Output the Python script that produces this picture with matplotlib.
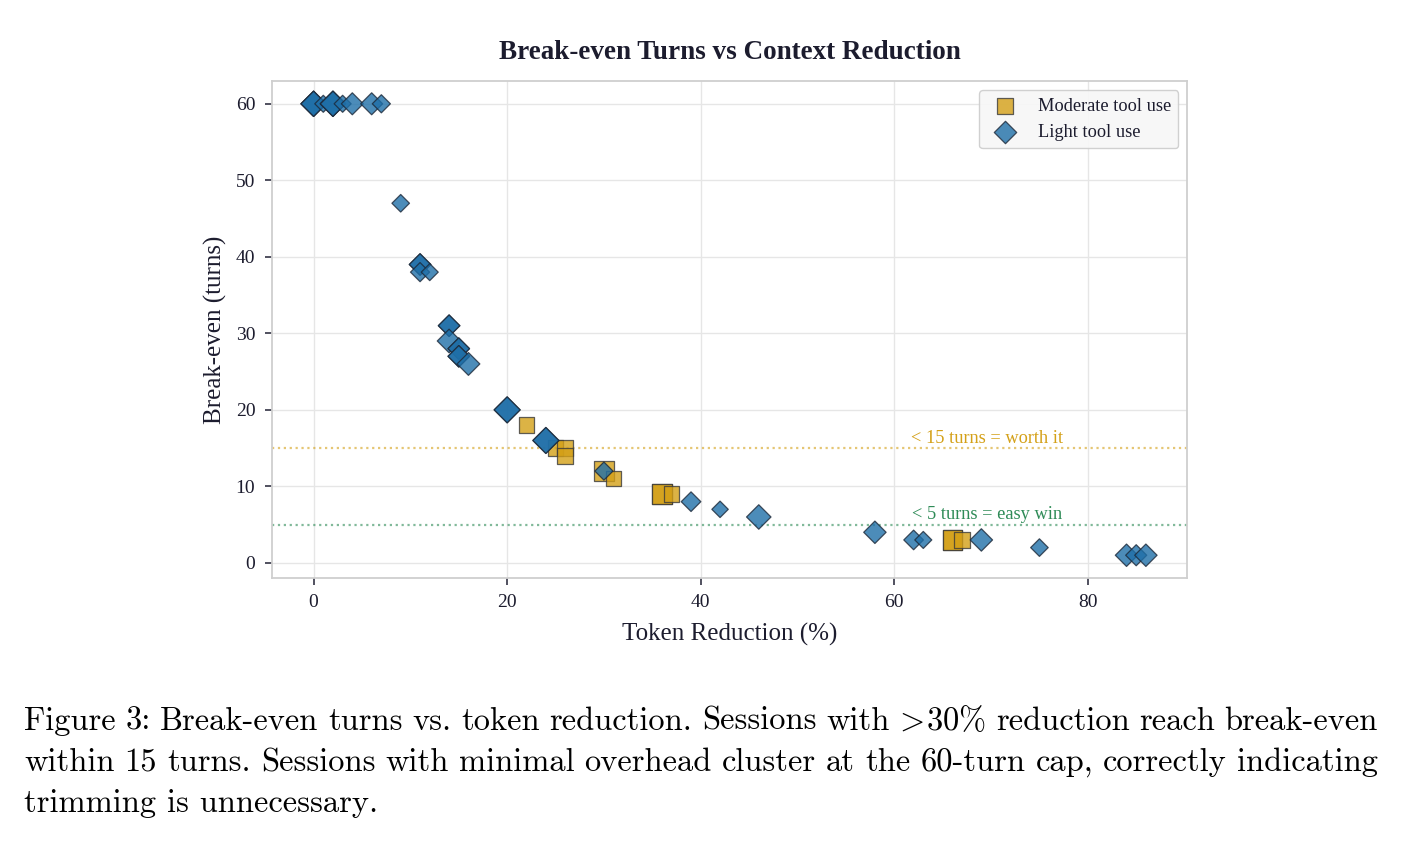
import matplotlib
matplotlib.use("Agg")
import matplotlib.pyplot as plt

# ---- data ----
light_x = [0, 0, 0, 1, 2, 2, 2, 3, 4, 6, 7, 9, 11, 11, 11, 12, 14, 14, 14, 15, 15, 15, 15, 16,
           20, 20, 24, 24, 30, 39, 42, 46, 58, 62, 63, 69, 75, 84, 85, 86]
light_y = [60, 60, 60, 60, 60, 60, 60, 60, 60, 60, 60, 47, 39, 39, 38, 38, 31, 31, 29, 28, 28, 27, 27, 26,
           20, 20, 16, 16, 12, 8, 7, 6, 4, 3, 3, 3, 2, 1, 1, 1]
light_s = [165, 165, 165, 75, 165, 165, 165, 75, 125, 125, 85, 80, 120, 120, 95, 75, 120, 120, 145, 120, 120, 120, 120, 135,
           175, 175, 175, 175, 85, 100, 70, 155, 130, 100, 75, 130, 80, 130, 115, 130]

mod_x = [22, 25, 26, 26, 30, 31, 36, 36, 37, 66, 66, 67]
mod_y = [18, 15, 15, 14, 12, 11, 9, 9, 9, 3, 3, 3]
mod_s = [125, 125, 125, 125, 210, 120, 200, 200, 120, 200, 200, 125]

worth_it = 15
easy_win = 5

caption_lines = [
    r"Figure 3: Break-even turns vs. token reduction. Sessions with $\!>\!$30% reduction reach break-even",
    "within 15 turns. Sessions with minimal overhead cluster at the 60-turn cap, correctly indicating",
    "trimming is unnecessary.",
]

# ---- style ----
plt.rcParams['font.family'] = ['Liberation Serif', 'DejaVu Serif']
plt.rcParams['mathtext.fontset'] = 'cm'
DARK = '#1c1c2e'
BLUE = '#1f6fa8'
GOLD = '#d4a017'
GREEN = '#2e8b57'

fig = plt.figure(figsize=(14.02, 8.46), dpi=100)
ax = fig.add_axes([0.194, 0.317, 0.653, 0.587])

ax.scatter(mod_x, mod_y, s=mod_s, marker='s', color=GOLD, alpha=0.8,
           edgecolors='#3a3a3a', linewidths=0.9, label='Moderate tool use', zorder=3)
ax.scatter(light_x, light_y, s=light_s, marker='D', color=BLUE, alpha=0.8,
           edgecolors='#1c2838', linewidths=0.9, label='Light tool use', zorder=3)

ax.axhline(worth_it, color=GOLD, ls=':', lw=1.6, alpha=0.6, zorder=2)
ax.axhline(easy_win, color=GREEN, ls=':', lw=1.6, alpha=0.6, zorder=2)
ax.text(69.6, worth_it + 0.2, '< 15 turns = worth it', color=GOLD, fontsize=13.2,
        ha='center', va='bottom')
ax.text(69.6, easy_win + 0.2, '< 5 turns = easy win', color=GREEN, fontsize=13.2,
        ha='center', va='bottom')

ax.set_xticks([0, 20, 40, 60, 80])
ax.set_yticks([0, 10, 20, 30, 40, 50, 60])
ax.grid(True, color='#e6e6e6', lw=1.0, zorder=0)
ax.set_axisbelow(True)
for sp in ax.spines.values():
    sp.set_color('#cfcfcf')
    sp.set_linewidth(1.3)
ax.tick_params(axis='both', colors=DARK, labelsize=14, length=5, width=1.2,
               direction='out', pad=7)
ax.tick_params(axis='both', color='#333344')

ax.set_xlabel('Token Reduction (%)', fontsize=18, color=DARK, labelpad=8)
ax.set_ylabel('Break-even (turns)', fontsize=18, color=DARK, labelpad=6)
ax.set_title('Break-even Turns vs Context Reduction', fontsize=19.5, fontweight='bold',
             color=DARK, pad=16)

leg = ax.legend(loc='upper right', fontsize=13.2, frameon=True, fancybox=True,
                framealpha=0.9, edgecolor='#cccccc', facecolor='#f7f7f7',
                handletextpad=0.8, borderpad=0.4, labelspacing=0.5)
for h in leg.legend_handles:
    h.set_sizes([130])
for t in leg.get_texts():
    t.set_color(DARK)

# ---- caption (justified like LaTeX) ----
fig.canvas.draw()
renderer = fig.canvas.get_renderer()
W, H = fig.bbox.width, fig.bbox.height
left_px, right_px = 24, 1378
base_px = [730, 771, 812]
cap_font = dict(family='cmr10', fontsize=23.4, color='black', va='baseline')

for i, line in enumerate(caption_lines):
    y = 1 - base_px[i] / H
    if i == len(caption_lines) - 1:
        fig.text(left_px / W, y, line, ha='left', **cap_font)
        continue
    words = line.split(' ')
    texts = [fig.text(0, y, w, ha='left', **cap_font) for w in words]
    widths = [t.get_window_extent(renderer).width for t in texts]
    gap = (right_px - left_px - sum(widths)) / (len(words) - 1)
    xp = left_px
    for t, w in zip(texts, widths):
        t.set_x(xp / W)
        xp += w + gap

fig.savefig('out.png', dpi=100)
